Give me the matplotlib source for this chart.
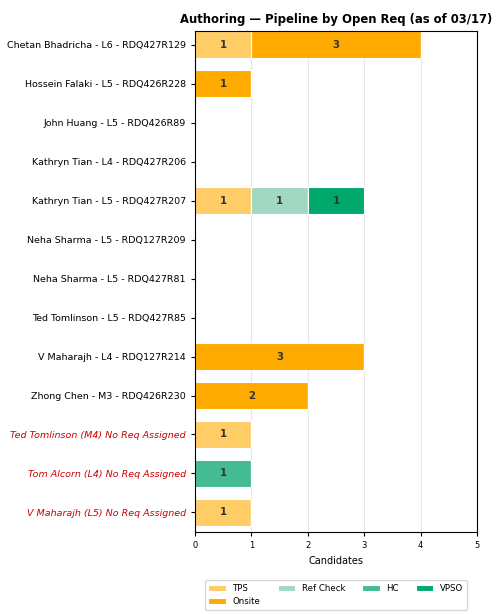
import matplotlib
matplotlib.use("Agg")
import matplotlib.pyplot as plt
import numpy as np

labels = [
    "Chetan Bhadricha - L6 - RDQ427R129",
    "Hossein Falaki - L5 - RDQ426R228",
    "John Huang - L5 - RDQ426R89",
    "Kathryn Tian - L4 - RDQ427R206",
    "Kathryn Tian - L5 - RDQ427R207",
    "Neha Sharma - L5 - RDQ127R209",
    "Neha Sharma - L5 - RDQ427R81",
    "Ted Tomlinson - L5 - RDQ427R85",
    "V Maharajh - L4 - RDQ127R214",
    "Zhong Chen - M3 - RDQ426R230",
    "Ted Tomlinson (M4) No Req Assigned",
    "Tom Alcorn (L4) No Req Assigned",
    "V Maharajh (L5) No Req Assigned",
]
stages = ["TPS", "Onsite", "Ref Check", "HC", "VPSO"]
tps       = [1, 0, 0, 0, 1, 0, 0, 0, 0, 0, 1, 0, 1]
onsite    = [3, 1, 0, 0, 0, 0, 0, 0, 3, 2, 0, 0, 0]
ref_check = [0, 0, 0, 0, 1, 0, 0, 0, 0, 0, 0, 0, 0]
hc        = [0, 0, 0, 0, 0, 0, 0, 0, 0, 0, 0, 1, 0]
vpso      = [0, 0, 0, 0, 1, 0, 0, 0, 0, 0, 0, 0, 0]
no_req = [False]*10 + [True]*3

colors = ["#FFCC66", "#FFAA00", "#A0D8C2", "#44BB90", "#00A86B"]
series = [tps, onsite, ref_check, hc, vpso]

fig = plt.figure(figsize=(5, 6.14), dpi=100)
ax = fig.add_axes([0.39, 0.1336, 0.564, 0.816])

y = np.arange(len(labels))
left = np.zeros(len(labels))
for name, vals, c in zip(stages, series, colors):
    vals = np.array(vals, dtype=float)
    ax.barh(y, vals, left=left, height=0.7, color=c, edgecolor="white",
            linewidth=0.8, label=name, zorder=2)
    for yi, v, l in zip(y, vals, left):
        if v > 0:
            ax.text(l + v/2, yi, f"{int(v)}", ha="center", va="center",
                    fontsize=7.3, fontweight="bold", color="#333333", zorder=3)
    left += vals

ax.set_yticks(y)
ax.set_yticklabels(labels, fontsize=6.8)
for tl, nr in zip(ax.get_yticklabels(), no_req):
    if nr:
        tl.set_color("#CC0000")
        tl.set_style("italic")
ax.set_xlim(0, 5)
ax.set_ylim(12.5, -0.35)
ax.set_xticks([0, 1, 2, 3, 4, 5])
ax.tick_params(axis="x", labelsize=6)
ax.tick_params(axis="both", length=3)
ax.set_xlabel("Candidates", fontsize=7)
ax.grid(axis="x", color="#e6e6e6", linewidth=0.8, zorder=0)
ax.set_axisbelow(True)
ax.set_title("Authoring — Pipeline by Open Req (as of 03/17)", fontsize=8.4,
             fontweight="bold")
ax.legend(loc="upper center", bbox_to_anchor=(0.5, -0.088), ncol=4,
          fontsize=6.2, frameon=True)

fig.savefig("out.png", dpi=100)
